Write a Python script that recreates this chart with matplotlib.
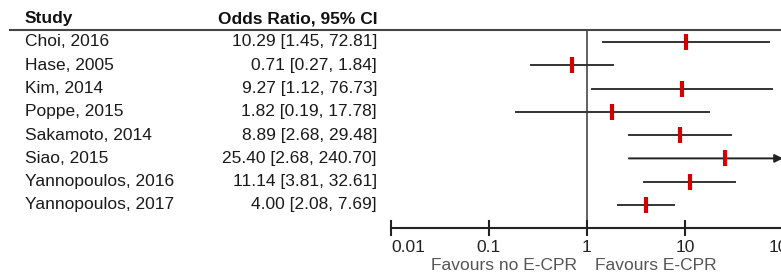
import numpy as np
import matplotlib.pyplot as plt
import matplotlib.transforms as mtrans
from matplotlib.lines import Line2D

plt.rcParams['font.family'] = ['Liberation Sans', 'DejaVu Sans']

# data
studies = ['Choi, 2016', 'Hase, 2005', 'Kim, 2014', 'Poppe, 2015',
           'Sakamoto, 2014', 'Siao, 2015', 'Yannopoulos, 2016', 'Yannopoulos, 2017']
odds = [10.29, 0.71, 9.27, 1.82, 8.89, 25.40, 11.14, 4.00]
lower = [1.45, 0.27, 1.12, 0.19, 2.68, 2.68, 3.81, 2.08]
upper = [72.81, 1.84, 76.73, 17.78, 29.48, 240.70, 32.61, 7.69]
ticks = [0.01, 0.1, 1, 10, 100]
tick_labels = ['0.01', '0.1', '1', '10', '100']

W, H = 781, 275
fig = plt.figure(figsize=(W / 100, H / 100), dpi=100)
# axes from x=391px (0.01) to 783px (100), y from 30px to 228px
ax = fig.add_axes([391 / W, 1 - 228 / H, (783 - 391) / W, (228 - 30) / H])
ax.set_xscale('log')
xmin, xmax = 0.01, 100
ax.set_xlim(xmin, xmax)
n = len(studies)
ax.set_ylim(7.99, -0.515)

ax.axvline(1, color='#555555', lw=1.3, zorder=1)

rows = np.arange(n)
for i in rows:
    hi = min(upper[i], xmax)
    if upper[i] > xmax:
        ax.annotate('', xy=(xmax, i), xytext=(lower[i], i),
                    arrowprops=dict(arrowstyle='-|>', color='#222222', lw=1.4,
                                    mutation_scale=12, shrinkA=0, shrinkB=0),
                    annotation_clip=False)
    else:
        ax.plot([lower[i], hi], [i, i], color='#333333', lw=1.4, zorder=2)
ax.plot(odds, rows, ls='none', marker='|', ms=11, mew=3, color='#d40000', zorder=3)

for s in ['left', 'right', 'top']:
    ax.spines[s].set_visible(False)
ax.spines['bottom'].set_linewidth(1.5)
ax.spines['bottom'].set_color('#222222')
ax.set_yticks([])
ax.set_xticks(ticks)
ax.set_xticklabels(tick_labels)
ax.minorticks_off()
ax.tick_params(axis='x', direction='inout', length=11, width=1.5, color='#222222',
               labelsize=12.5, labelcolor='#222222', pad=3)
ax.get_xticklabels()[0].set_horizontalalignment('left')

# left columns
tr = mtrans.blended_transform_factory(fig.transFigure, ax.transData)
for i in rows:
    ax.text(25 / W, i, studies[i], transform=tr, ha='left', va='center',
            fontsize=12.5, color='#1a1a1a')
    ax.text(377 / W, i, f'{odds[i]:.2f} [{lower[i]:.2f}, {upper[i]:.2f}]',
            transform=tr, ha='right', va='center', fontsize=12.5, color='#1a1a1a')

fig.text(25 / W, 1 - 19 / H, 'Study', ha='left', va='center', fontsize=12.5,
         fontweight='bold', color='#111111')
fig.text(377 / W, 1 - 19 / H, 'Odds Ratio, 95% CI', ha='right', va='center',
         fontsize=12.5, fontweight='bold', color='#111111')
fig.add_artist(Line2D([10 / W, 1], [1 - 30 / H, 1 - 30 / H], transform=fig.transFigure,
                      color='#444444', lw=1.5))

fig.text(577 / W, 1 - 265 / H, 'Favours no E-CPR', ha='right', va='center',
         fontsize=12.5, color='#555555')
fig.text(595 / W, 1 - 265 / H, 'Favours E-CPR', ha='left', va='center',
         fontsize=12.5, color='#555555')

fig.savefig('out.png', dpi=100, facecolor='white')
